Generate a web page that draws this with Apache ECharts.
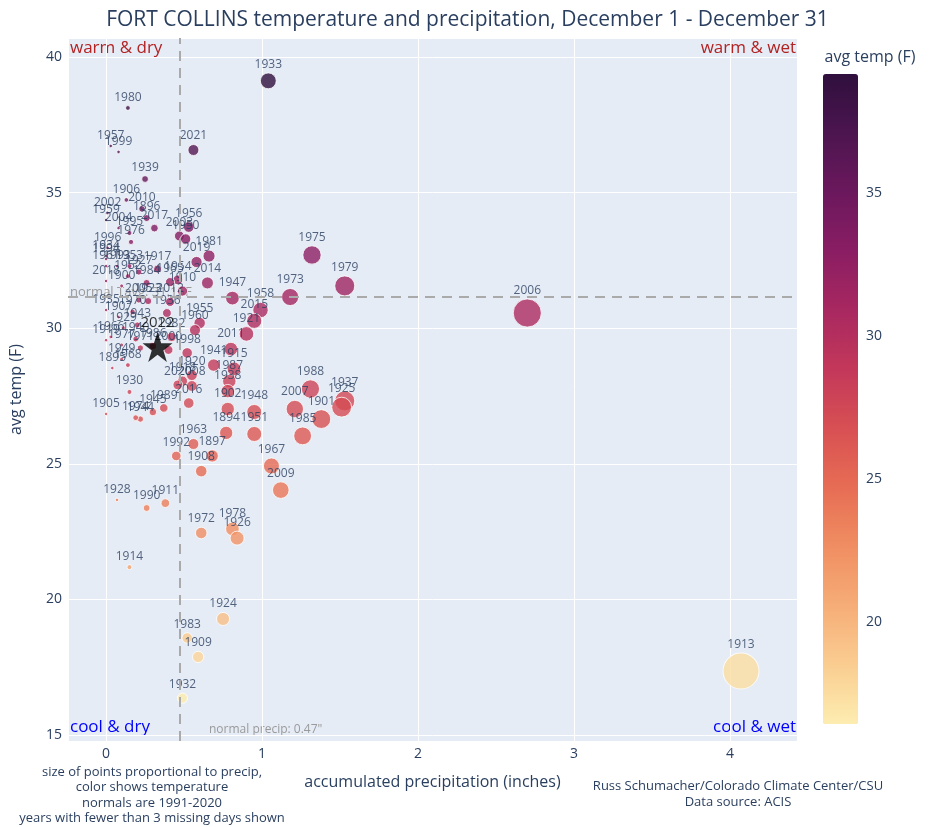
<!DOCTYPE html>
<html>
<head>
<meta charset="utf-8">
<script src="https://cdn.jsdelivr.net/npm/echarts@6/dist/echarts.min.js"></script>
<style>
  html, body { margin: 0; padding: 0; background: #fff; }
  #main { width: 935px; height: 827px; }
</style>
</head>
<body>
<div id="main"></div>
<script>
// one entry per year: accumulated precip (inches) and avg temp (F), Dec 1 - Dec 31
const years = [1933, 1980, 1957, 1999, 2021, 1939, 1906, 2010, 2002, 1896, 1959, 2017, 1956, 2004, 1995,
  2003, 1950, 1976, 1996, 1934, 1994, 1981, 2019, 1961, 1993, 1953, 1917, 1927, 1952, 2018,
  1984, 1900, 1954, 1965, 2014, 1910, 1947, 1975, 1979, 1973, 2006, 1958, 2015, 1921, 2011,
  2012, 2005, 1923, 1936, 1935, 1970, 1907, 1955, 1960, 1943, 1929, 1982, 1966, 1940, 1919,
  1977, 1971, 1986, 2000, 1998, 1949, 1968, 1895, 1941, 1915, 1987, 1938, 1920, 1918, 2020,
  2008, 2016, 1930, 1902, 1948, 1989, 1945, 1944, 1974, 1905, 1894, 1951, 1988, 2007, 1937,
  1925, 1901, 1985, 1963, 1897, 1992, 1908, 1967, 2009, 1928, 1990, 1911, 1972, 1978, 1926,
  1914, 1924, 1983, 1909, 1932, 1913];
const precip = [1.04, 0.14, 0.03, 0.08, 0.56, 0.25, 0.13, 0.23, 0.01, 0.26, 0.00, 0.31, 0.53, 0.08, 0.15,
  0.47, 0.51, 0.16, 0.01, 0.00, 0.00, 0.66, 0.58, 0.00, 0.07, 0.15, 0.33, 0.21, 0.14, 0.00,
  0.26, 0.10, 0.46, 0.41, 0.65, 0.49, 0.81, 1.32, 1.53, 1.18, 2.70, 0.99, 0.95, 0.90, 0.80,
  0.41, 0.21, 0.27, 0.39, 0.00, 0.17, 0.08, 0.60, 0.57, 0.20, 0.11, 0.42, 0.03, 0.19, 0.00,
  0.10, 0.22, 0.30, 0.40, 0.52, 0.10, 0.14, 0.04, 0.69, 0.82, 0.79, 0.78, 0.55, 0.49, 0.46,
  0.55, 0.53, 0.15, 0.78, 0.95, 0.37, 0.30, 0.22, 0.19, 0.00, 0.77, 0.95, 1.31, 1.21, 1.53,
  1.51, 1.38, 1.26, 0.56, 0.68, 0.45, 0.61, 1.06, 1.12, 0.07, 0.26, 0.38, 0.61, 0.81, 0.84,
  0.15, 0.75, 0.52, 0.59, 0.49, 4.07];
const avgTemp = [39.12, 38.12, 36.72, 36.50, 36.57, 35.50, 34.73, 34.40, 34.25, 34.06, 33.99, 33.69, 33.73, 33.69, 33.51,
  33.40, 33.29, 33.18, 32.96, 32.66, 32.55, 32.66, 32.44, 32.29, 32.29, 32.29, 32.18, 32.07, 31.92, 31.74,
  31.67, 31.56, 31.78, 31.70, 31.67, 31.37, 31.11, 32.70, 31.56, 31.15, 30.56, 30.67, 30.27, 29.79, 29.23,
  30.97, 31.04, 31.00, 30.56, 30.67, 30.60, 30.41, 30.19, 29.93, 30.12, 30.01, 29.68, 29.68, 29.60, 29.56,
  29.38, 29.27, 29.34, 29.20, 29.09, 28.86, 28.64, 28.53, 28.64, 28.50, 28.05, 27.68, 28.27, 28.05, 27.91,
  27.87, 27.24, 27.65, 27.02, 26.91, 27.06, 26.91, 26.65, 26.70, 26.84, 26.14, 26.10, 27.76, 27.02, 27.32,
  27.09, 26.65, 26.03, 25.73, 25.29, 25.29, 24.73, 24.92, 24.03, 23.67, 23.37, 23.55, 22.45, 22.60, 22.26,
  21.19, 19.28, 18.58, 17.88, 16.36, 17.36];

// current year, drawn as a star
const currentYear = ['2022'];
const currentPrecip = [0.33];
const currentTemp = [29.31];

// normals 1991-2020
const normalPrecip = 0.47;
const normalTemp = 31.15;

const xTicks = [0, 1, 2, 3, 4];
const yTicks = [15, 20, 25, 30, 35, 40];
const cbTicks = [20, 25, 30, 35];

// plotly "matter" colorscale
const matter = ['rgb(253,237,176)', 'rgb(250,205,145)', 'rgb(246,173,119)', 'rgb(240,142,98)',
  'rgb(231,109,84)', 'rgb(216,80,83)', 'rgb(195,56,90)', 'rgb(168,40,96)', 'rgb(138,29,99)',
  'rgb(107,24,93)', 'rgb(76,21,80)', 'rgb(47,15,61)'];

const txt = '#2a3f5f';
const font = '"Open Sans", "Noto Sans", sans-serif';

let points = years.map((y, i) => ({ name: String(y), value: [precip[i], avgTemp[i]] }));
let star = currentYear.map((y, i) => ({ name: y, value: [currentPrecip[i], currentTemp[i]] }));

let myChart = echarts.init(document.getElementById('main'));

let option = {
  backgroundColor: '#fff',
  textStyle: { fontFamily: font },
  title: {
    text: 'FORT COLLINS temperature and precipitation, December 1 - December 31',
    left: 'center',
    top: 5,
    textStyle: { color: txt, fontSize: 21, fontWeight: 'normal', fontFamily: font }
  },
  grid: [
    { left: 68, top: 38, width: 729, height: 703, show: true, backgroundColor: '#E5ECF6', borderWidth: 0 },
    // colorbar tick axis
    { left: 823, top: 49.7, width: 35, height: 715.2, show: false }
  ],
  xAxis: [
    {
      type: 'value', gridIndex: 0, min: -0.244, max: 4.429,
      name: 'accumulated precipitation (inches)', nameLocation: 'middle', nameGap: 33,
      nameTextStyle: { color: txt, fontSize: 16 },
      axisLine: { show: false }, axisTick: { show: false },
      axisLabel: { color: txt, fontSize: 14, margin: 6,
        formatter: v => xTicks.indexOf(Math.round(v * 1000) / 1000) >= 0 ? String(v) : '' },
      splitLine: { lineStyle: { color: '#fff', width: 1 } }
    },
    { type: 'value', gridIndex: 1, show: false, min: 0, max: 1 }
  ],
  yAxis: [
    {
      type: 'value', gridIndex: 0, min: 14.78, max: 40.70,
      name: 'avg temp (F)', nameLocation: 'middle', nameGap: 44,
      nameTextStyle: { color: txt, fontSize: 16 },
      axisLine: { show: false }, axisTick: { show: false },
      axisLabel: { color: txt, fontSize: 14, margin: 6,
        formatter: v => yTicks.indexOf(Math.round(v * 1000) / 1000) >= 0 ? String(v) : '' },
      splitLine: { lineStyle: { color: '#fff', width: 1 } }
    },
    {
      type: 'value', gridIndex: 1, position: 'right', min: 15, max: 40, interval: 5,
      axisLine: { show: false }, axisTick: { show: false }, splitLine: { show: false },
      axisLabel: { color: txt, fontSize: 14, margin: 8,
        formatter: v => cbTicks.indexOf(v) >= 0 ? String(v) : '' }
    }
  ],
  visualMap: {
    type: 'continuous',
    seriesIndex: 0,
    dimension: 1,
    min: 16.3,
    max: 39.15,
    left: 823,
    top: 74,
    itemWidth: 35,
    itemHeight: 650,
    padding: 0,
    calculable: false,
    hoverLink: false,
    text: null,
    showLabel: false,
    inRange: { color: matter }
  },
  series: [
    {
      type: 'scatter',
      xAxisIndex: 0, yAxisIndex: 0,
      data: points,
      symbolSize: v => Math.max(3.5, 15.5 * Math.pow(v[0], 0.6)),
      itemStyle: { opacity: 0.8, borderColor: '#fff', borderWidth: 1 },
      label: {
        show: true, position: 'top', distance: 2,
        formatter: p => p.name, color: txt, fontSize: 12, fontFamily: font
      },
      markLine: {
        silent: true, symbol: 'none',
        lineStyle: { color: '#aaaaaa', width: 2, type: [10, 7] },
        label: { show: false },
        data: [{ xAxis: normalPrecip }, { yAxis: normalTemp }]
      },
      z: 3
    },
    {
      type: 'scatter',
      xAxisIndex: 0, yAxisIndex: 0,
      data: star,
      symbol: 'path://M50,0 L61.8,35.4 L99,35.4 L69,57.3 L80.4,92.7 L50,70.8 L19.6,92.7 L31,57.3 L1,35.4 L38.2,35.4 Z',
      symbolSize: 30,
      itemStyle: { color: '#000' },
      label: { show: true, position: 'top', distance: 2, formatter: p => p.name, color: '#000', fontSize: 15 },
      z: 5
    }
  ],
  graphic: [
    { type: 'text', left: 70, top: 40, style: { text: 'warm & dry', fill: '#b22222', font: '17px ' + font } },
    { type: 'text', right: 139, top: 40, style: { text: 'warm & wet', fill: '#b22222', font: '17px ' + font } },
    { type: 'text', left: 70, top: 719, style: { text: 'cool & dry', fill: '#0000ff', font: '17px ' + font } },
    { type: 'text', right: 139, top: 719, style: { text: 'cool & wet', fill: '#0000ff', font: '17px ' + font } },
    { type: 'text', left: 70, top: 286, z: 1, style: { text: 'normal Tavg: 31.15F', fill: '#9a9a9a', font: '13px ' + font } },
    { type: 'text', left: 209, top: 724, style: { text: 'normal precip: 0.47"', fill: '#9a9a9a', font: '12px ' + font } },
    { type: 'text', x: 870, y: 49, style: { text: 'avg temp (F)', fill: txt, font: '16px ' + font, align: 'center', verticalAlign: 'top' } },
    {
      type: 'text', x: 152, y: 764,
      style: {
        text: 'size of points proportional to precip,\ncolor shows temperature\nnormals are 1991-2020\nyears with fewer than 3 missing days shown',
        fill: txt, font: '13px ' + font, align: 'center', verticalAlign: 'top', lineHeight: 15.6
      }
    },
    {
      type: 'text', x: 738, y: 779,
      style: {
        text: 'Russ Schumacher/Colorado Climate Center/CSU\nData source: ACIS',
        fill: txt, font: '13px ' + font, align: 'center', verticalAlign: 'top', lineHeight: 15.5
      }
    }
  ]
};

myChart.setOption(option);
</script>
</body>
</html>
